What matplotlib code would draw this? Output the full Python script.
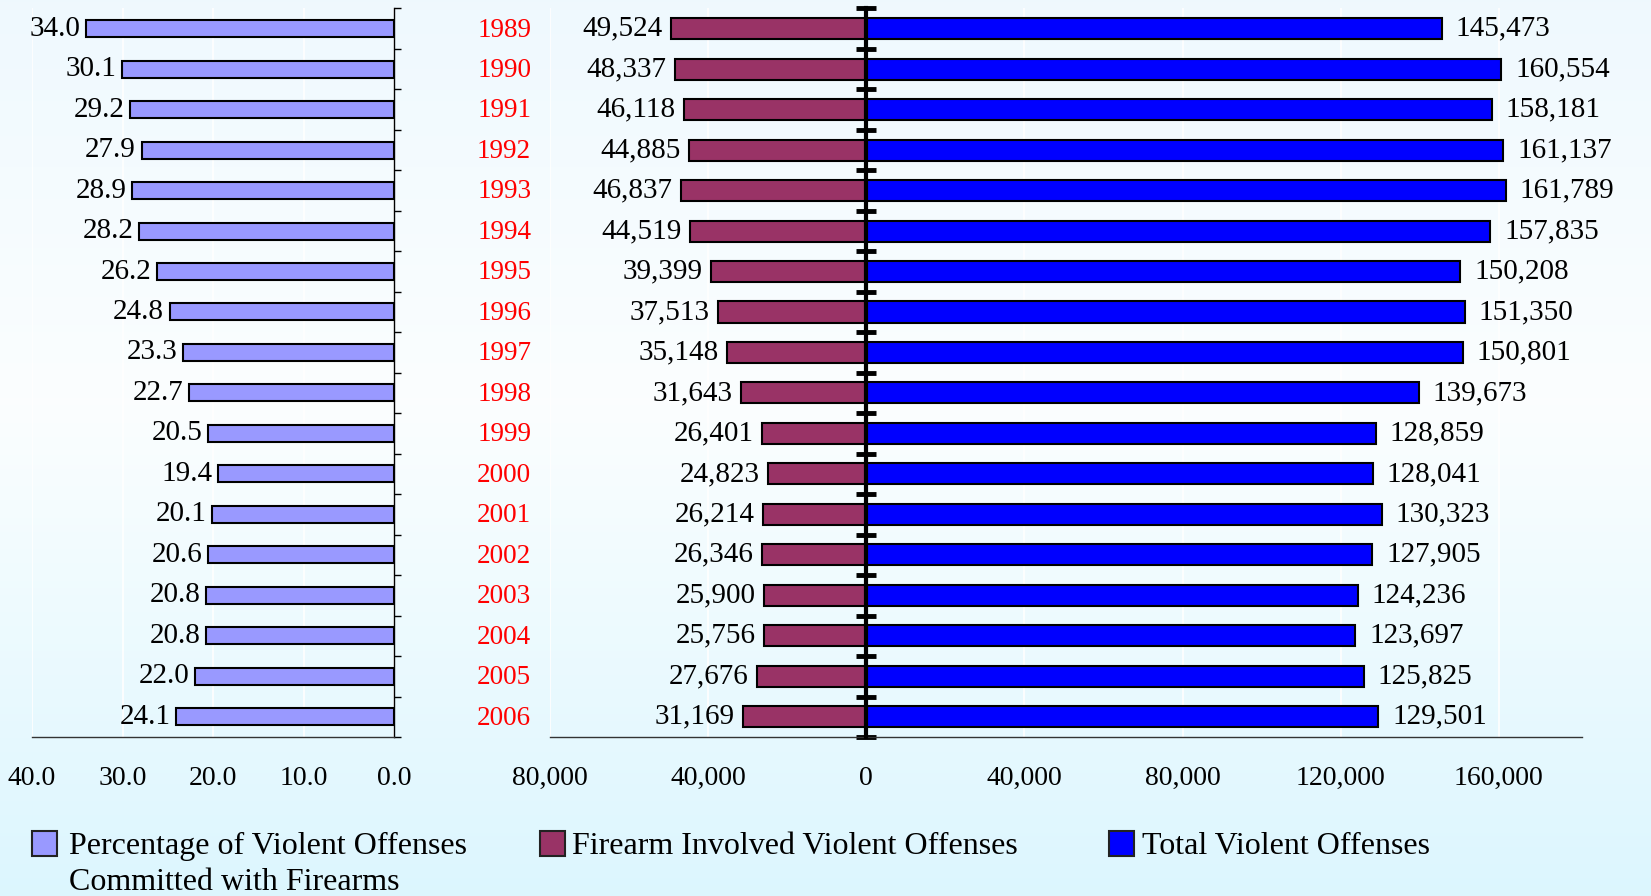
import numpy as np
import matplotlib
matplotlib.use("Agg")
from matplotlib import pyplot as plt
from matplotlib.patches import Rectangle
from matplotlib.ticker import FuncFormatter

# data
years = [str(y) for y in range(1989, 2007)]
pct_firearm = [34.0, 30.1, 29.2, 27.9, 28.9, 28.2, 26.2, 24.8, 23.3, 22.7,
               20.5, 19.4, 20.1, 20.6, 20.8, 20.8, 22.0, 24.1]
firearm_offenses = [49524, 48337, 46118, 44885, 46837, 44519, 39399, 37513, 35148,
                    31643, 26401, 24823, 26214, 26346, 25900, 25756, 27676, 31169]
total_offenses = [145473, 160554, 158181, 161137, 161789, 157835, 150208, 151350,
                  150801, 139673, 128859, 128041, 130323, 127905, 124236, 123697,
                  125825, 129501]
legend_labels = ["Percentage of Violent Offenses\nCommitted with Firearms",
                 "Firearm Involved Violent Offenses",
                 "Total Violent Offenses"]
colors = ["#9999FF", "#993366", "#0000FF"]

plt.rcParams["font.family"] = ["Liberation Serif", "DejaVu Serif"]
FS_TICK = 20    # axis tick labels
FS_YEAR = 19.5  # red year labels
FS_VAL = 21     # bar value labels
FS_LEG = 23     # legend

fig = plt.figure(figsize=(16.51, 8.96), dpi=100)

# background gradient: light blue top, white middle, light cyan bottom
bg = fig.add_axes([0, 0, 1, 1], zorder=-10)
top = np.array([0.937, 0.976, 0.996])
mid = np.array([0.985, 0.996, 1.0])
bot = np.array([0.863, 0.965, 0.996])
rows = []
for v in np.linspace(0, 1, 256):
    if v < 0.45:
        rows.append(top + (mid - top) * v / 0.45)
    else:
        rows.append(mid + (bot - mid) * (v - 0.45) / 0.55)
img = np.array(rows)[:, None, :]
bg.imshow(img, aspect="auto", extent=[0, 1, 0, 1])
bg.axis("off")

y = np.arange(len(years))
bottom_f = (896 - 737) / 896
height_f = (737 - 8.4) / 896

####################################### left panel: percentage #######################################
ax1 = fig.add_axes([32 / 1651, bottom_f, 362 / 1651, height_f])
ax1.patch.set_alpha(0)
ax1.barh(y, pct_firearm, height=0.42, color=colors[0], edgecolor="black",
         linewidth=1.5, zorder=3)
ax1.set_xlim(40, 0)
ax1.set_ylim(len(years) - 0.5, -0.5)
ax1.set_xticks([40, 30, 20, 10, 0])
ax1.xaxis.set_major_formatter(FuncFormatter(lambda v, p: f"{v:.1f}"))
ax1.tick_params(axis="x", length=0, pad=21, labelsize=FS_TICK)
ax1.grid(axis="x", color="white", linewidth=1.2, zorder=0)
ax1.yaxis.tick_right()
ax1.set_yticks(np.arange(-0.5, len(years), 1))
ax1.set_yticklabels([])
ax1.tick_params(axis="y", direction="out", length=5, width=1, color="black")
for s in ["top", "left"]:
    ax1.spines[s].set_visible(False)
ax1.spines["right"].set_color("black")
ax1.spines["right"].set_linewidth(1)
ax1.spines["bottom"].set_color("#333333")
ax1.spines["bottom"].set_linewidth(1)
for yi, v in zip(y, pct_firearm):
    ax1.annotate(f"{v:.1f}", (v, yi), xytext=(-4, 0), textcoords="offset points",
                 ha="right", va="center", fontsize=FS_VAL, color="black")

####################################### middle panel: counts #######################################
ax2 = fig.add_axes([550 / 1651, bottom_f, 1032 / 1651, height_f])
ax2.patch.set_alpha(0)
ax2.barh(y, [-v for v in firearm_offenses], height=0.52, color=colors[1],
         edgecolor="black", linewidth=1.5, zorder=3)
ax2.barh(y, total_offenses, height=0.52, color=colors[2],
         edgecolor="black", linewidth=1.5, zorder=3)
ax2.set_xlim(-80000, 181000)
ax2.set_ylim(len(years) - 0.5, -0.5)
ax2.set_xticks(np.arange(-80000, 160001, 40000))
ax2.xaxis.set_major_formatter(FuncFormatter(lambda v, p: f"{abs(v):,.0f}"))
ax2.tick_params(axis="x", length=0, pad=21, labelsize=FS_TICK)
ax2.grid(axis="x", color="white", linewidth=1.2, zorder=0)
ax2.set_yticks(np.arange(-0.5, len(years), 1))
ax2.set_yticklabels([])
ax2.spines["left"].set_position(("data", 0))
ax2.spines["left"].set_linewidth(3)
ax2.spines["left"].set_zorder(5)
ax2.tick_params(axis="y", direction="inout", length=14, width=3.5, color="black")
for s in ["top", "right"]:
    ax2.spines[s].set_visible(False)
ax2.spines["bottom"].set_color("#333333")
ax2.spines["bottom"].set_linewidth(1)
for yi, v in zip(y, firearm_offenses):
    ax2.annotate(f"{v:,}", (-v, yi), xytext=(-6, 0), textcoords="offset points",
                 ha="right", va="center", fontsize=FS_VAL, color="black")
for yi, v in zip(y, total_offenses):
    ax2.annotate(f"{v:,}", (v, yi), xytext=(10, 0), textcoords="offset points",
                 ha="left", va="center", fontsize=FS_VAL, color="black")

# year labels between the panels
for yi, yr in zip(y, years):
    ax2.annotate(yr, (-80000, yi), xytext=(-33, -1), textcoords="offset points",
                 ha="center", va="center", fontsize=FS_YEAR, color="#FF0000",
                 annotation_clip=False)

####################################### legend #######################################
sq_x = [32, 540, 1109]
tx_x = [69, 572, 1142]
for c, sx, tx, lab in zip(colors, sq_x, tx_x, legend_labels):
    fig.add_artist(Rectangle((sx / 1651, (896 - 856) / 896), 25 / 1651, 25 / 896,
                             facecolor=c, edgecolor="#222222", linewidth=1.5,
                             transform=fig.transFigure))
    fig.text(tx / 1651, (896 - 832) / 896, lab, ha="left", va="top",
             fontsize=FS_LEG, color="black", linespacing=1.3)

plt.savefig("out.png", dpi=100)
